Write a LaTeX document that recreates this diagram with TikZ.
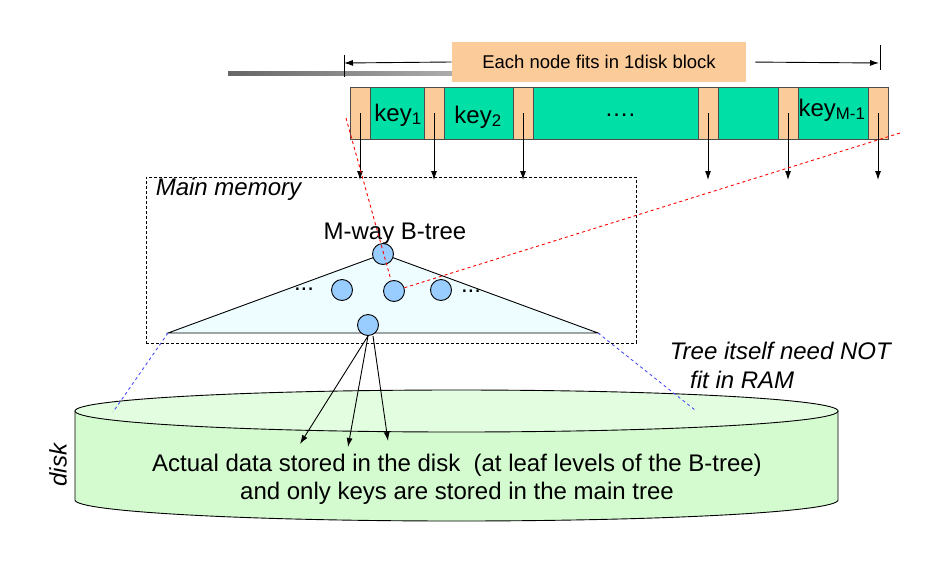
\documentclass[tikz,border=0pt]{standalone}
\usepackage{fontspec}
\setmainfont{Liberation Sans}
\usepackage{tikz}
\usetikzlibrary{arrows.meta}
\definecolor{blockgreen}{HTML}{00E0A6}
\definecolor{ptrorange}{HTML}{FCCB9A}
\definecolor{ballblue}{HTML}{99CCFF}
\definecolor{treecyan}{HTML}{EEFDFF}
\definecolor{diskside}{HTML}{D4FBD0}
\definecolor{disktop}{HTML}{E2FDDF}

\begin{document}
\begin{tikzpicture}[x=1pt,y=-1pt,line width=0.9pt,
  ptr/.style={draw=black!70,fill=ptrorange,minimum width=20pt,minimum height=52pt,inner sep=0pt},
  ball/.style={circle,draw,fill=ballblue,minimum size=21pt,inner sep=0pt},
  down/.style={-{Latex[length=9pt,width=6pt]}},
  big/.style={font=\fontsize{24}{28}\selectfont},
  bigit/.style={font=\fontsize{24}{29}\selectfont\itshape}]
\useasboundingbox (0,0) rectangle (933,562);
% block width bracket
\shade[left color=black!60,right color=white] (228,71) rectangle (720,75);
\draw (344,55)--(344,77);
\draw (880,45)--(880,70);
\coordinate (bl) at (344,63);
\coordinate (br) at (879,63);
\node[fill=ptrorange,minimum width=294pt,minimum height=40pt,font=\fontsize{18.5}{22}\selectfont] (lbl) at (599,62) {Each node fits in 1disk block};
\draw[down] (lbl.west)--(bl);
\draw[down,shorten <=9pt] (lbl.east)--(br);
% the disk block
\node[draw=black!70,fill=blockgreen,minimum width=538pt,minimum height=52pt,inner sep=0pt] (blk) at (619,113) {};
\foreach \i/\x in {1/360,2/434,3/523,4/708,5/788,6/878}{
  \node[ptr] (p\i) at (\x,113) {};
  \coordinate (t\i) at (\x,180);
  \draw[down] (p\i.center)--(t\i);
}
\node[big] (k1) at (398,115) {key\textsubscript{1}};
\node[big] (k2) at (478,117) {key\textsubscript{2}};
\node[big] (kd) at (620,115) {….};
\node[big] (km) at (832,110) {key\textsubscript{M-1}};
% disk
\filldraw[fill=diskside] (75,411)--(75,500) arc[start angle=180,end angle=0,x radius=381.5,y radius=21]--(838,411);
\filldraw[fill=disktop] (456.5,411) ellipse[x radius=381.5,y radius=21];
\node[bigit,rotate=90] (disk) at (58,465) {disk};
\node[big,align=center] (data) at (457,479) {Actual data stored in the disk\ \ (at leaf levels of the B-tree)\\and only keys are stored in the main tree};
% main memory
\node[draw,dash pattern=on 3pt off 2pt,minimum width=490pt,minimum height=166pt,inner sep=0pt] (mem) at (391,260) {};
\node[bigit,anchor=west] (memlbl) at (152,189) {Main memory};
\coordinate (apex) at (383,254);
\coordinate (tl) at (168,333);
\coordinate (tr) at (598,333);
\filldraw[fill=treecyan] (apex)--(tl)--(tr)--cycle;
\node[big] (mway) at (395,234) {M-way B-tree};
\node[ball] (r) at (apex) {};
\node[ball] (c1) at (342,290) {};
\node[ball] (c2) at (394,291) {};
\node[ball] (c3) at (441,290) {};
\node[ball] (lf) at (368,325) {};
\node[big] (d1) at (304,289) {...};
\node[big] (d2) at (471,291) {...};
% zoom lines
\coordinate (rs) at (346,118);
\coordinate (re) at (900,133);
\draw[red,dashed] (rs)--(c2);
\draw[red,dashed] (c2)--(re);
\coordinate (bll) at (113,412);
\coordinate (blr) at (695,410);
\draw[blue!70,dashed] (tl)--(bll);
\draw[blue!70,dashed] (tr)--(blr);
\node[bigit,align=left,anchor=north west] (ram) at (666,338) {Tree itself need NOT\\\hspace*{0.85em}fit in RAM};
% leaf pointers into the disk
\coordinate (f1) at (300,444);
\coordinate (f2) at (348,447);
\coordinate (f3) at (388,441);
\draw[down] (lf.south)--(f1);
\draw[down] (lf.south)--(f2);
\draw[down] ([xshift=5pt]lf.south)--(f3);
\end{tikzpicture}
\end{document}
